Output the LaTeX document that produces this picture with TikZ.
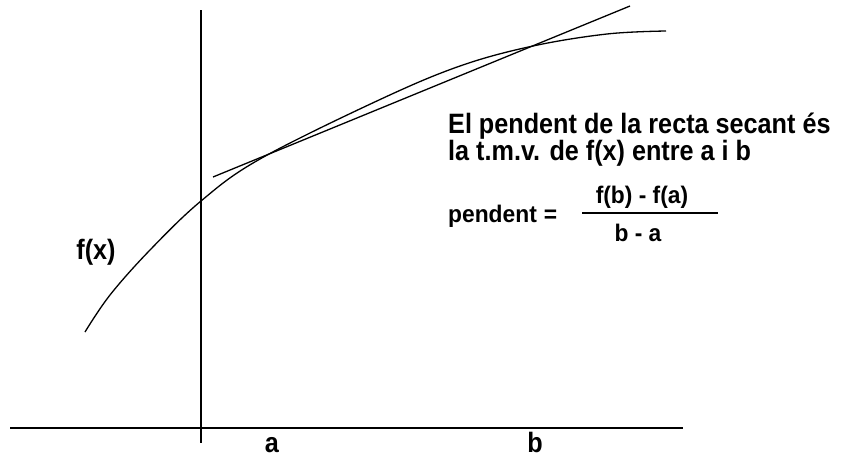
\documentclass[tikz,border=0pt]{standalone}
\usepackage{fontspec}
\newfontfamily\lblfont[FakeStretch=0.9]{Liberation Sans}
\newfontfamily\frmfont[FakeStretch=0.95]{Liberation Sans}
\begin{document}
\begin{tikzpicture}[x=1pt,y=-1pt,
  axis/.style={line width=1.4pt},
  curveline/.style={line width=1.3pt},
  txt/.style={inner sep=0pt,font=\lblfont\bfseries\fontsize{28}{32}\selectfont},
  ftxt/.style={inner sep=0pt,font=\frmfont\bfseries\fontsize{24}{28}\selectfont}]
\useasboundingbox (0,0) rectangle (844,458);
% axes
\coordinate (xl) at (10,428);
\coordinate (xr) at (683,428);
\coordinate (yt) at (201,10);
\coordinate (yb) at (201,443);
\draw[axis] (xl) -- (xr);
\draw[axis] (yt) -- (yb);
% function curve
\draw[curveline] plot[smooth,tension=0.6] coordinates
  {(85,332) (110,295) (150,250) (201,201) (260,159) (379,100) (460,66) (533,46) (607,34) (666,31)};
% secant
\coordinate (s1) at (213,177);
\coordinate (s2) at (630,6);
\draw[curveline] (s1) -- (s2);
% labels
\node[txt,anchor=base] (fx) at (96,259) {f(x)};
\node[txt,anchor=base] (la) at (272,452) {a};
\node[txt,anchor=base] (lb) at (535,452) {b};
\node[txt,anchor=base west] (t1) at (448,133) {El pendent de la recta secant és};
\node[txt,anchor=base west] (t2) at (448,160) {la t.m.v. de f(x) entre a i b};
\node[ftxt,anchor=base west] (pd) at (448,222) {pendent\hspace{7pt}=};
\coordinate (fl) at (582,213);
\coordinate (fr) at (718,213);
\draw[line width=1.6pt] (fl) -- (fr);
\node[ftxt,anchor=base] (num) at (642,203) {f(b) - f(a)};
\node[ftxt,anchor=base] (den) at (638,241) {b - a};
\end{tikzpicture}
\end{document}
